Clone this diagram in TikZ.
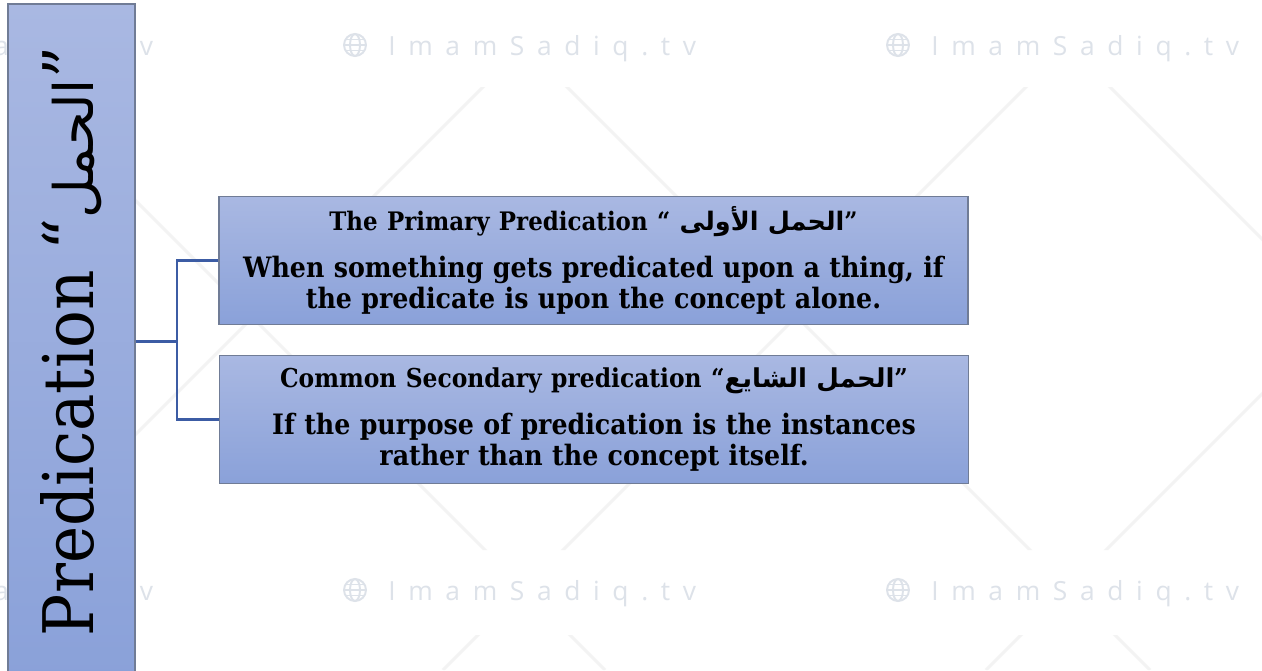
\documentclass[tikz,border=0pt]{standalone}
\usepackage{fontspec}
\setmainfont{DejaVu Serif Condensed}
\newfontfamily\arabicfont[Script=Arabic]{DejaVu Sans}
\newfontfamily\wmfont[LetterSpace=48]{Open Sans}
\TeXXeTstate=1
\newcommand\arab[1]{{\arabicfont\beginR #1\endR}}
\definecolor{barhigh}{RGB}{169,184,226}
\definecolor{barlow}{RGB}{138,161,217}
\definecolor{edgegrey}{RGB}{112,124,150}
\definecolor{linkblue}{RGB}{60,92,164}
\definecolor{wmgrey}{RGB}{221,226,233}
\definecolor{latgrey}{RGB}{243,243,243}
\tikzset{
  barbox/.style={draw=edgegrey,line width=0.8pt,rotate=90,top color=barhigh,bottom color=barlow,
    minimum width=13.5cm,minimum height=2.54cm,inner sep=0pt,font=\fontsize{39.7}{44}\selectfont},
  itembox/.style={draw=edgegrey,line width=0.8pt,top color=barhigh,bottom color=barlow,
    minimum width=14.98cm,minimum height=2.56cm,text width=14.6cm,align=center,inner sep=0pt,
    font=\bfseries\fontsize{16}{17.6}\selectfont},
  link/.style={draw=linkblue,line width=1.2pt},
  wmark/.style={text=wmgrey,anchor=base west,inner sep=0pt,font=\wmfont\fontsize{15}{18}\selectfont},
  globe/.style={draw=wmgrey,line width=1.1pt},
  lattice/.style={draw=latgrey,line width=1.7pt}
}
\begin{document}
\begin{tikzpicture}[x=0.02cm,y=-0.02cm]
\useasboundingbox (0,0) rectangle (1262,670);
\clip (0,0) rectangle (1262,670);
\fill[white] (0,0) rectangle (1262,670);
\begin{scope}
\clip (0,87) rectangle (1262,550) (0,635) rectangle (1262,670);
\foreach \c in {-608,-65,480,1023} \draw[lattice] (\c,0) -- (\c+670,670);
\foreach \c in {27,570,1113,1656} \draw[lattice] (\c,0) -- (\c-670,670);
\end{scope}
\foreach \cx/\cy [count=\i] in {-188/45,355/45,898/45,-188/590,355/590,898/590}{
  \draw[globe] (\cx,\cy) circle[radius=0.22cm];
  \draw[globe] (\cx,\cy) ellipse[x radius=0.1cm,y radius=0.22cm];
  \draw[globe] (\cx-11,\cy) -- (\cx+11,\cy);
  \draw[globe] (\cx-9.5,\cy-5.5) -- (\cx+9.5,\cy-5.5);
  \draw[globe] (\cx-9.5,\cy+5.5) -- (\cx+9.5,\cy+5.5);
  \node[wmark] (wm\i) at (\cx+33,\cy+10) {ImamSadiq.tv};
}
\node[barbox] (pred) at (71.5,341.5) {Predication “{\fontsize{31}{40}\selectfont\arab{الحمل}}”};
\node[itembox] (primary) at (593.5,260.5) {{\fontsize{14.5}{16}\selectfont The Primary Predication “ \arab{الحمل الأولى}”}\\[9pt]
  When something gets predicated upon a thing, if\\the predicate is upon the concept alone.};
\node[itembox] (common) at (594,419.5) {{\fontsize{14.8}{16}\selectfont Common Secondary predication “\arab{الحمل الشايع}”}\\[9pt]
  If the purpose of predication is the instances\\rather than the concept itself.};
\coordinate (fork) at (177,341.5);
\draw[link] (pred.south) -- (fork);
\draw[link] (primary.west) -| (fork);
\draw[link] (common.west) -| (fork);
\end{tikzpicture}
\end{document}
